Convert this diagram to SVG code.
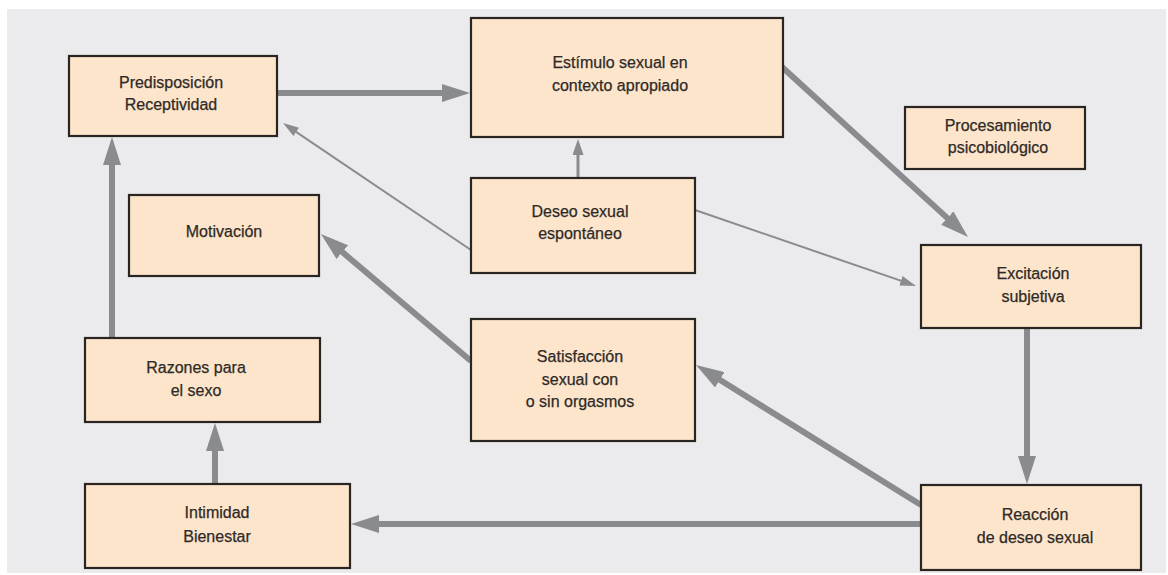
<svg xmlns="http://www.w3.org/2000/svg" width="1168" height="575" viewBox="0 0 1168 575">
<style>
.box{fill:#fde5cb;stroke:#2b2521;stroke-width:2.2}
.t{font-family:"Liberation Sans",Arial,sans-serif;font-size:16px;fill:#2e2a27;text-anchor:middle;stroke:#2e2a27;stroke-width:0.25}
.thick{stroke:#8a8b8e;stroke-width:6;fill:none}
.thin{stroke:#8a8b8e;stroke-width:2;fill:none}
.mid{stroke:#8a8b8e;stroke-width:3;fill:none}
</style>
<defs>
<marker id="ah" markerUnits="userSpaceOnUse" markerWidth="28" markerHeight="18" refX="2" refY="9" orient="auto"><path d="M0,0 L28,9 L0,18 z" fill="#8a8b8e"/></marker>
<marker id="as" markerUnits="userSpaceOnUse" markerWidth="16" markerHeight="10" refX="2" refY="5" orient="auto"><path d="M0,0 L16,5 L0,10 z" fill="#8a8b8e"/></marker>
<marker id="am" markerUnits="userSpaceOnUse" markerWidth="16" markerHeight="11" refX="2" refY="5.5" orient="auto"><path d="M0,0 L16,5.5 L0,11 z" fill="#8a8b8e"/></marker>
</defs>
<rect x="0" y="0" width="1168" height="575" fill="#ffffff"/>
<rect x="7" y="9" width="1159" height="564" fill="#ebebed"/>
<g id="connectors">
<line class="thick" x1="277" y1="93" x2="444" y2="93" marker-end="url(#ah)"/>
<line class="thin" x1="471" y1="250" x2="294.6" y2="130.8" marker-end="url(#as)"/>
<line class="mid" x1="578" y1="178" x2="578" y2="153" marker-end="url(#am)"/>
<line class="thick" x1="782" y1="67" x2="948.8" y2="219.4" marker-end="url(#ah)"/>
<line class="thin" x1="695" y1="210" x2="902.8" y2="281.4" marker-end="url(#as)"/>
<line class="thick" x1="471" y1="361" x2="340.8" y2="250.8" marker-end="url(#ah)"/>
<line class="thick" x1="112" y1="338" x2="112" y2="163" marker-end="url(#ah)"/>
<line class="thick" x1="215" y1="484" x2="215" y2="449" marker-end="url(#ah)"/>
<line class="thick" x1="921" y1="524" x2="377" y2="524" marker-end="url(#ah)"/>
<line class="thick" x1="921" y1="505" x2="718.1" y2="378.8" marker-end="url(#ah)"/>
<line class="thick" x1="1027" y1="328" x2="1027" y2="458" marker-end="url(#ah)"/>
</g>
<g id="predisposicion">
<rect class="box" x="69" y="56" width="208" height="80"/>
<text class="t" x="171" y="88">Predisposición</text>
<text class="t" x="171" y="110">Receptividad</text>
</g>
<g id="estimulo">
<rect class="box" x="471" y="18" width="312" height="119"/>
<text class="t" x="620" y="68">Estímulo sexual en</text>
<text class="t" x="620" y="91">contexto apropiado</text>
</g>
<g id="procesamiento">
<rect class="box" x="905" y="107" width="180" height="62"/>
<text class="t" x="998" y="131">Procesamiento</text>
<text class="t" x="998" y="153">psicobiológico</text>
</g>
<g id="deseo">
<rect class="box" x="471" y="178" width="224" height="95"/>
<text class="t" x="580" y="217">Deseo sexual</text>
<text class="t" x="580" y="239">espontáneo</text>
</g>
<g id="motivacion">
<rect class="box" x="129" y="195" width="190" height="81"/>
<text class="t" x="224" y="237">Motivación</text>
</g>
<g id="excitacion">
<rect class="box" x="921" y="245" width="220" height="83"/>
<text class="t" x="1033" y="279">Excitación</text>
<text class="t" x="1033" y="302">subjetiva</text>
</g>
<g id="satisfaccion">
<rect class="box" x="471" y="319" width="224" height="122"/>
<text class="t" x="580" y="362">Satisfacción</text>
<text class="t" x="580" y="385">sexual con</text>
<text class="t" x="580" y="407">o sin orgasmos</text>
</g>
<g id="razones">
<rect class="box" x="85" y="338" width="235" height="84"/>
<text class="t" x="196" y="373">Razones para</text>
<text class="t" x="196" y="396">el sexo</text>
</g>
<g id="intimidad">
<rect class="box" x="85" y="484" width="265" height="84"/>
<text class="t" x="217" y="518">Intimidad</text>
<text class="t" x="217" y="542">Bienestar</text>
</g>
<g id="reaccion">
<rect class="box" x="921" y="485" width="220" height="85"/>
<text class="t" x="1035" y="520">Reacción</text>
<text class="t" x="1035" y="543">de deseo sexual</text>
</g>
</svg>
